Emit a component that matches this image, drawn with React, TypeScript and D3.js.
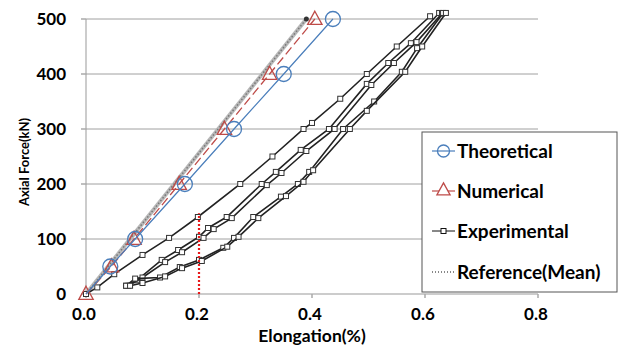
import React from "react";
import * as d3 from "d3";

type Pt = [number, number];

const xTicks = [0, 0.2, 0.4, 0.6, 0.8];
const yTicks = [0, 100, 200, 300, 400, 500];

const theoretical: Pt[] = [[0, 0], [0.043, 50], [0.087, 100], [0.175, 200], [0.262, 300], [0.35, 400], [0.437, 500]];
const numerical: Pt[] = [[0, 0], [0.045, 50], [0.085, 100], [0.165, 200], [0.245, 300], [0.325, 400], [0.405, 500]];
const referenceMean: Pt[] = [[0, 0], [0.39, 500]];
const referenceLine: Pt[] = [[0.2, 0], [0.2, 147]];

const exp1: Pt[] = [[0, 0], [0.02, 12], [0.05, 36], [0.1, 71], [0.147, 102], [0.198, 140], [0.273, 200], [0.33, 250], [0.385, 300], [0.4, 311], [0.45, 355], [0.497, 400], [0.55, 450], [0.609, 505]];
const exp2: Pt[] = [[0.071, 15], [0.09, 25], [0.134, 62], [0.163, 80], [0.2, 104], [0.216, 120], [0.249, 140], [0.311, 200], [0.336, 222], [0.38, 262], [0.43, 300], [0.497, 382], [0.535, 420], [0.575, 456], [0.625, 511]];
const exp3: Pt[] = [[0.075, 15], [0.1, 30], [0.14, 58], [0.17, 76], [0.208, 102], [0.226, 118], [0.258, 138], [0.32, 198], [0.346, 220], [0.39, 260], [0.44, 300], [0.505, 380], [0.545, 420], [0.585, 458], [0.63, 510]];
const exp4: Pt[] = [[0.071, 15], [0.087, 28], [0.131, 30], [0.166, 49], [0.2, 62], [0.243, 84], [0.262, 102], [0.296, 140], [0.345, 177], [0.375, 200], [0.395, 222], [0.455, 300], [0.51, 350], [0.559, 404], [0.586, 447], [0.632, 511]];
const exp5: Pt[] = [[0.078, 15], [0.1, 20], [0.14, 32], [0.17, 47], [0.205, 60], [0.25, 86], [0.27, 104], [0.305, 138], [0.354, 178], [0.385, 204], [0.402, 225], [0.467, 300], [0.497, 333], [0.565, 404], [0.595, 450], [0.637, 511]];
const experimental: Pt[][] = [exp1, exp2, exp3, exp4, exp5];

const legendItems = ["Theoretical", "Numerical", "Experimental", "Reference(Mean)"];

const W = 621;
const H = 347;
const FONT = "Lato, 'Open Sans', sans-serif";

export default function App() {
  const x = d3.scaleLinear().domain([0, 0.8]).range([86, 538]);
  const y = d3.scaleLinear().domain([0, 500]).range([294, 19]);
  const line = d3.line<Pt>().x((d) => x(d[0])).y((d) => y(d[1]));

  const blue = "#4a7ebb";
  const red = "#be4b48";
  const tri = (cx: number, cy: number, s: number) =>
    `M${cx},${cy - s * 0.65} L${cx + s * 0.6},${cy + s * 0.45} L${cx - s * 0.6},${cy + s * 0.45} Z`;

  const legX = 422;
  const legY = 132;
  const legRowY = [151, 191, 231, 272];

  return (
    <div style={{ position: "absolute", left: 0, top: 0 }}>
      <svg width={W} height={H} style={{ display: "block", background: "#fff" }}>
        {/* gridlines */}
        {yTicks.filter((t) => t > 0).map((t) => (
          <line key={"g" + t} x1={x(0)} x2={x(0.8)} y1={y(t)} y2={y(t)} stroke="#a0a0a0" strokeWidth={1} />
        ))}
        {/* axes */}
        <line x1={x(0)} x2={x(0.8)} y1={y(0)} y2={y(0)} stroke="#999" strokeWidth={1} />
        <line x1={x(0)} x2={x(0)} y1={y(0)} y2={y(500)} stroke="#999" strokeWidth={1} />
        {yTicks.map((t) => (
          <line key={"yt" + t} x1={x(0) - 5} x2={x(0)} y1={y(t)} y2={y(t)} stroke="#aaa" strokeWidth={1.5} />
        ))}
        {xTicks.map((t) => (
          <line key={"xt" + t} x1={x(t)} x2={x(t)} y1={y(0)} y2={y(0) + 4} stroke="#aaa" strokeWidth={1.5} />
        ))}
        {/* tick labels */}
        {yTicks.map((t) => (
          <text key={"yl" + t} x={66} y={y(t)} dy="0.36em" textAnchor="end" fontFamily={FONT} fontWeight="bold" fontSize={17} fill="#000">
            {t}
          </text>
        ))}
        {xTicks.map((t) => (
          <text key={"xl" + t} x={x(t) - 2} y={314} dy="0.36em" textAnchor="middle" fontFamily={FONT} fontWeight="bold" fontSize={17} fill="#000">
            {t.toFixed(1)}
          </text>
        ))}
        {/* axis titles */}
        <text x={312} y={336} dy="0.36em" textAnchor="middle" fontFamily={FONT} fontWeight="bold" fontSize={17.5}>
          Elongation(%)
        </text>
        <text transform={`translate(24,162) rotate(-90)`} textAnchor="middle" dy="0.36em" fontFamily={FONT} fontWeight="bold" fontSize={13}>
          Axial Force(kN)
        </text>

        {/* reference mean gray band */}
        <path d={line(referenceMean) || ""} fill="none" stroke="#b8b8b8" strokeWidth={4} />
        <path d={line(referenceMean) || ""} fill="none" stroke="#777" strokeWidth={1.5} strokeDasharray="1.5,2" />
        <circle cx={x(referenceMean[1][0])} cy={y(referenceMean[1][1])} r={2.5} fill="#333" />

        {/* experimental */}
        {experimental.map((s, i) => (
          <g key={"e" + i}>
            <path d={line(s) || ""} fill="none" stroke="#222" strokeWidth={1.6} />
            {s.map((p, j) => (
              <rect key={j} x={x(p[0]) - 2.5} y={y(p[1]) - 2.5} width={5} height={5} fill="#fff" stroke="#333" strokeWidth={1} />
            ))}
          </g>
        ))}

        {/* reference vertical red dotted */}
        <path d={line(referenceLine) || ""} fill="none" stroke="#e8191a" strokeWidth={2.2} strokeDasharray="2,2" />

        {/* numerical */}
        <path d={line(numerical) || ""} fill="none" stroke={red} strokeWidth={1.3} strokeDasharray="9,4" />
        {numerical.map((p, j) => (
          <path key={"n" + j} d={tri(x(p[0]), y(p[1]), 12)} fill="none" stroke={red} strokeWidth={1.3} />
        ))}

        {/* theoretical */}
        <path d={line(theoretical) || ""} fill="none" stroke={blue} strokeWidth={1.2} />
        {theoretical.slice(1).map((p, j) => (
          <circle key={"t" + j} cx={x(p[0])} cy={y(p[1])} r={7.5} fill="none" stroke={blue} strokeWidth={1.3} />
        ))}

        {/* legend */}
        <rect x={legX} y={legY} width={195} height={160} fill="#fff" stroke="#555" strokeWidth={1} />
        {legendItems.map((name, i) => {
          const cy = legRowY[i];
          return (
            <g key={name}>
              {i === 0 && (
                <g>
                  <line x1={432} x2={455} y1={cy} y2={cy} stroke={blue} strokeWidth={1.2} />
                  <circle cx={443.5} cy={cy} r={6} fill="none" stroke={blue} strokeWidth={1.3} />
                </g>
              )}
              {i === 1 && (
                <g>
                  <line x1={432} x2={455} y1={cy} y2={cy} stroke={red} strokeWidth={1.2} />
                  <path d={tri(443.5, cy - 1, 11)} fill="#fff" stroke={red} strokeWidth={1.3} />
                </g>
              )}
              {i === 2 && (
                <g>
                  <line x1={432} x2={455} y1={cy} y2={cy} stroke="#111" strokeWidth={1} />
                  <rect x={441} y={cy - 2.5} width={5} height={5} fill="#fff" stroke="#111" strokeWidth={1} />
                </g>
              )}
              {i === 3 && (
                <line x1={432} x2={455} y1={cy} y2={cy} stroke="#111" strokeWidth={1} strokeDasharray="1,2" />
              )}
              <text x={457} y={cy} dy="0.36em" fontFamily={FONT} fontWeight="bold" fontSize={19} fill="#000">
                {name}
              </text>
            </g>
          );
        })}
      </svg>
    </div>
  );
}
